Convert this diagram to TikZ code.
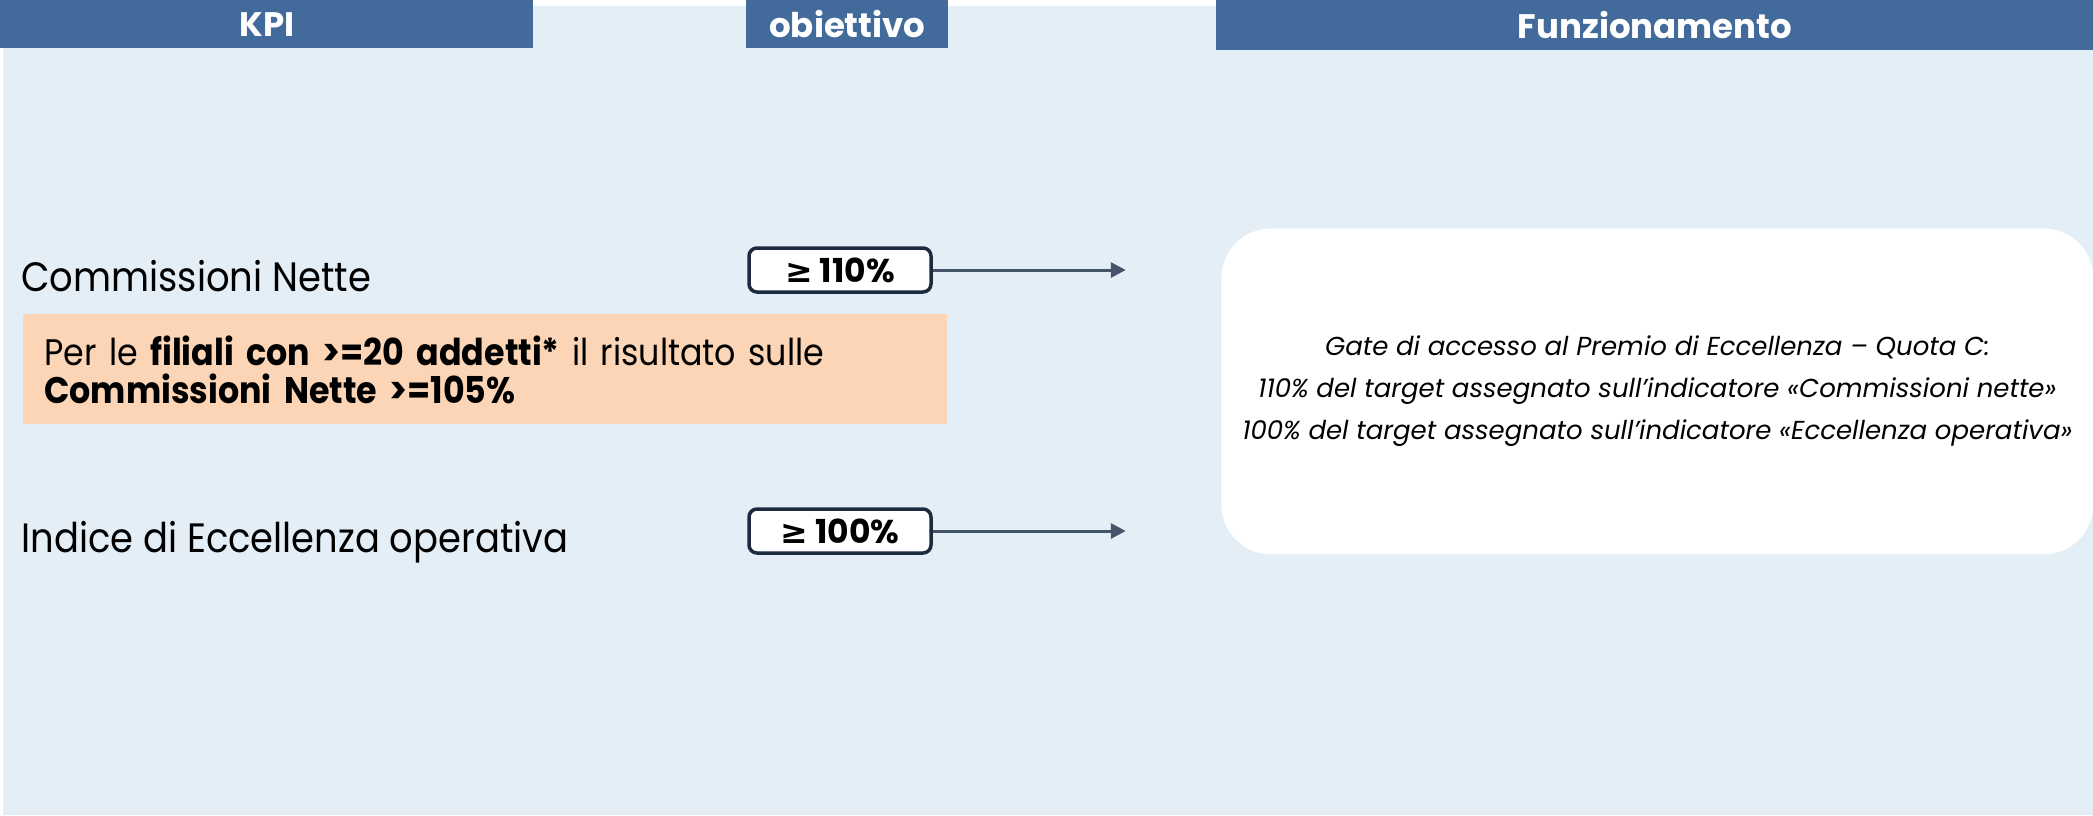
\documentclass[tikz,border=0pt]{standalone}
\usepackage{fontspec}
\setmainfont{Poppins}
\newfontfamily\narrowfont{Poppins}[FakeStretch=0.9]
\newfontfamily\symfont{DejaVu Sans}
\usepackage{tikz}
\usetikzlibrary{positioning, arrows.meta}

\definecolor{headblue}{RGB}{66,107,156}
\definecolor{paleblue}{RGB}{227,238,247}
\definecolor{peach}{RGB}{251,213,181}
\definecolor{slate}{RGB}{68,84,106}
\definecolor{navy}{RGB}{29,43,64}

\begin{document}
\begin{tikzpicture}[x=0.5pt, y=-0.5pt,
    header/.style={fill=headblue, text=white, inner sep=0pt, anchor=north west,
        font=\bfseries\fontsize{17}{20}\selectfont},
    kpi/.style={anchor=base west, inner sep=0pt, font=\narrowfont\fontsize{20.5}{24}\selectfont},
    target/.style={draw=navy, line width=1.75pt, rounded corners=4pt, fill=white,
        minimum width=91pt, minimum height=22pt, inner sep=0pt,
        font=\bfseries\fontsize{16.5}{19}\selectfont},
    arr/.style={draw=slate, line width=1.5pt, -{Triangle[length=7.5pt,width=7.5pt]}}]
    \useasboundingbox (0,0) rectangle (2093,815);
    % background
    \fill[paleblue] (3,6) rectangle (2093,815);

    % column headers
    \node[header, minimum width=266.5pt, minimum height=24pt] (kpihead) at (0,0) {KPI};
    \node[header, minimum width=101pt, minimum height=24pt] (obhead) at (746,0) {obiettivo};
    \node[header, minimum width=438.5pt, minimum height=25pt] (funhead) at (1216,0) {Funzionamento};

    % indicators
    \node[kpi] (cn) at (21,291) {Commissioni Nette};
    \node[kpi] (ieo) at (21,552) {Indice di Eccellenza operativa};
    \node[fill=peach, anchor=north west, minimum width=462pt, minimum height=55pt,
        inner xsep=10.5pt, inner ysep=0pt, text width=441pt, align=left,
        font=\narrowfont\fontsize{18.5}{19}\selectfont] (note) at (23,314)
        {Per le \textbf{filiali con >=20 addetti*} il risultato sulle\\
         \textbf{Commissioni Nette >=105\%}};

    % targets
    \node[target] (ob1) at (840,270) {{\symfont ≥} 110\%};
    \node[target] (ob2) at (840,531) {{\symfont ≥} 100\%};
    \coordinate[right=96.5pt of ob1] (e1);
    \coordinate[right=96.5pt of ob2] (e2);
    \draw[arr] (ob1) -- (e1);
    \draw[arr] (ob2) -- (e2);

    % gate description
    \node[fill=white, rounded corners=25pt, anchor=north west, minimum width=436pt,
        minimum height=163pt, align=center, font=\itshape\fontsize{13}{21}\selectfont] (gate) at (1221,228)
        {Gate di accesso al Premio di Eccellenza – Quota C:\\
         110\% del target assegnato sull’indicatore «Commissioni nette»\\
         100\% del target assegnato sull’indicatore «Eccellenza operativa»};
\end{tikzpicture}
\end{document}
